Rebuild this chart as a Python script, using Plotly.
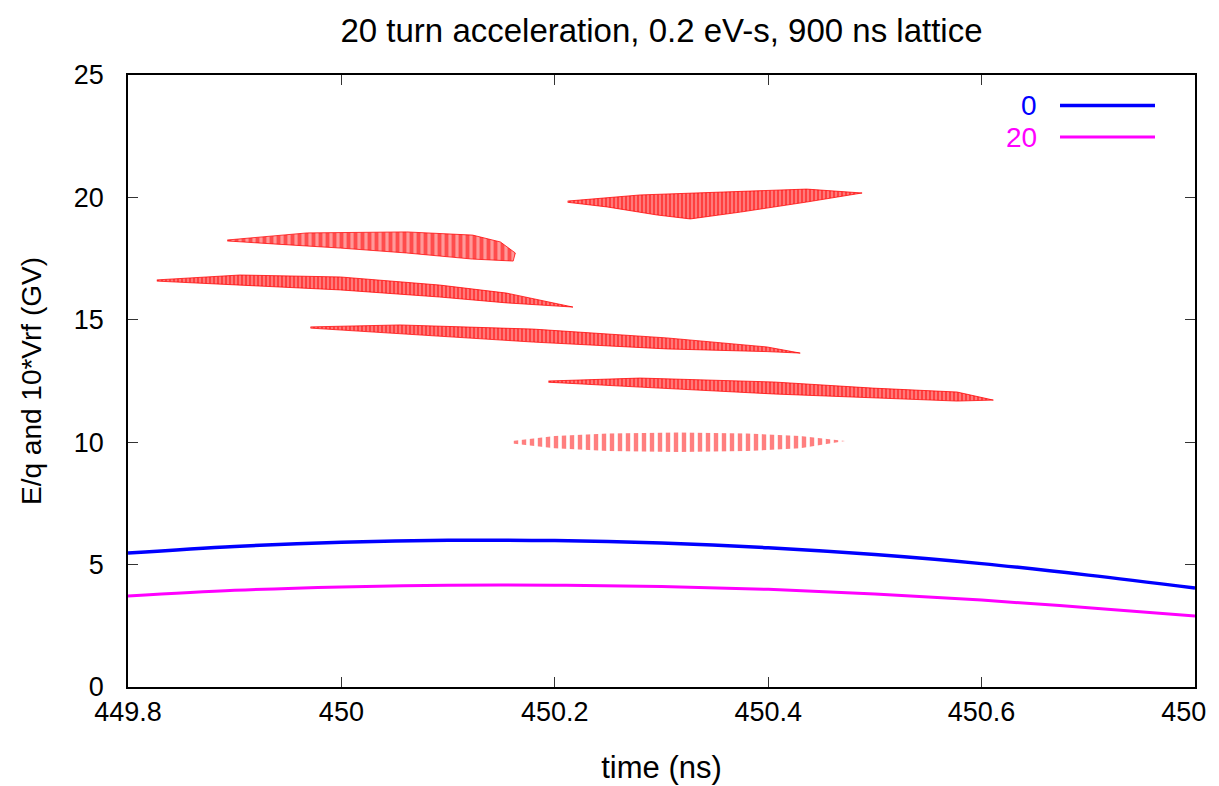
import plotly.graph_objects as go

# ---- data ----
time_ns = [449.8, 449.9, 450.0, 450.1, 450.2, 450.3, 450.4, 450.5, 450.6, 450.7, 450.8]
vrf_turn0 = [5.47, 5.74, 5.91, 5.99, 5.98, 5.88, 5.69, 5.41, 5.04, 4.57, 4.04]
vrf_turn20 = [3.72, 3.95, 4.09, 4.16, 4.16, 4.11, 3.99, 3.80, 3.55, 3.24, 2.90]

# bunch outlines (closed polygons: upper edge left->right, lower edge right->left)
bunch_a_x = [450.160, 450.200, 450.250, 450.316, 450.380, 450.430, 450.472,
             450.430, 450.380, 450.316, 450.250, 450.200, 450.160]
bunch_a_y = [10.05, 10.25, 10.36, 10.40, 10.36, 10.25, 10.05,
             9.75, 9.64, 9.60, 9.64, 9.75, 9.95]

bunch_b_x = [450.194, 450.280, 450.405, 450.498, 450.577, 450.611,
             450.577, 450.498, 450.405, 450.280, 450.194]
bunch_b_y = [12.50, 12.62, 12.46, 12.21, 12.05, 11.72,
             11.68, 11.81, 11.97, 12.25, 12.45]

bunch_c_x = [449.971, 450.055, 450.180, 450.305, 450.399, 450.430,
             450.399, 450.305, 450.180, 450.055, 449.971]
bunch_c_y = [14.71, 14.79, 14.62, 14.26, 13.89, 13.64,
             13.70, 13.81, 14.09, 14.42, 14.66]

bunch_d_x = [449.827, 449.905, 449.999, 450.092, 450.155, 450.217,
             450.155, 450.092, 449.999, 449.905, 449.827]
bunch_d_y = [16.63, 16.83, 16.75, 16.42, 16.09, 15.52,
             15.69, 15.93, 16.22, 16.42, 16.58]

bunch_e_x = [449.893, 449.968, 450.061, 450.123, 450.149, 450.163,
             450.161, 450.123, 450.061, 449.999, 449.936, 449.893]
bunch_e_y = [18.26, 18.55, 18.59, 18.46, 18.18, 17.73,
             17.40, 17.48, 17.73, 17.93, 18.10, 18.22]

bunch_f_x = [450.212, 450.280, 450.358, 450.436, 450.488,
             450.436, 450.374, 450.327, 450.296, 450.249, 450.212]
bunch_f_y = [19.85, 20.10, 20.22, 20.34, 20.18,
             19.81, 19.40, 19.12, 19.28, 19.61, 19.80]

x_tick_vals = [449.8, 450.0, 450.2, 450.4, 450.6, 450.8]
x_tick_text = ["449.8", "450", "450.2", "450.4", "450.6",
               "450<span style='color:rgba(0,0,0,0)'>.8</span>"]
y_tick_vals = [0, 5, 10, 15, 20, 25]

FONT = "Liberation Sans"
RED = "#ff0000"

# page body has an 8px margin: figure is sized so the whole page is 1219x786
W, H = 1211, 778
L, R, T, B = 120, 24, 67, 99
PW = W - L - R
PH = H - T - B

fig = go.Figure()

# (x, y, pattern size, solidity, outline width, base fill)
bunches = [
    (bunch_a_x, bunch_a_y, 8, 0.55, 0, "rgba(0,0,0,0)"),
    (bunch_b_x, bunch_b_y, 4, 0.55, 1, "rgba(255,0,0,0.5)"),
    (bunch_c_x, bunch_c_y, 4, 0.55, 1, "rgba(255,0,0,0.5)"),
    (bunch_d_x, bunch_d_y, 4, 0.55, 1, "rgba(255,0,0,0.5)"),
    (bunch_e_x, bunch_e_y, 7, 0.55, 1, "rgba(255,0,0,0.4)"),
    (bunch_f_x, bunch_f_y, 4, 0.55, 1, "rgba(255,0,0,0.5)"),
]
for bx, by, psize, sol, lw, base in bunches:
    fig.add_trace(go.Scatter(
        x=bx, y=by, mode="lines", fill="toself",
        line=dict(color="rgba(255,0,0,0.75)" if lw else "rgba(0,0,0,0)", width=lw),
        fillcolor=base,
        fillpattern=dict(shape="|", fgcolor=RED, size=psize, solidity=sol,
                         fillmode="overlay"),
        showlegend=False, hoverinfo="skip"))

fig.add_trace(go.Scatter(x=time_ns, y=vrf_turn0, mode="lines", line_shape="spline",
                         line=dict(color="#0000ff", width=3.5), name="0", showlegend=False))
fig.add_trace(go.Scatter(x=time_ns, y=vrf_turn20, mode="lines", line_shape="spline",
                         line=dict(color="#ff00ff", width=3), name="20", showlegend=False))

# gnuplot-style key: label right-aligned, then line sample (positions in page px)
key = [("0", "#0000ff", 3.5, 105.5), ("20", "#ff00ff", 3, 137)]
for label, col, w, ypx in key:
    yp = 1 - (ypx - 75) / PH
    fig.add_annotation(xref="paper", yref="paper", x=(1039 - 128) / PW, y=yp,
                       text=label, showarrow=False, xanchor="right", yanchor="middle",
                       font=dict(family=FONT, size=28, color=col))
    fig.add_shape(type="line", xref="paper", yref="paper",
                  x0=(1060 - 128) / PW, x1=(1155 - 128) / PW, y0=yp, y1=yp,
                  line=dict(color=col, width=w))

axis_common = dict(showline=True, linecolor="black", linewidth=1.5, mirror="ticks",
                   ticks="inside", ticklen=10, tickwidth=1.3, tickcolor="#333",
                   showgrid=False, zeroline=False, automargin=False,
                   ticklabeloverflow="allow",
                   tickfont=dict(family=FONT, size=27, color="black"))

fig.update_xaxes(range=[449.8, 450.8], tickvals=x_tick_vals, ticktext=x_tick_text,
                 title_text="time (ns)", title_standoff=30,
                 title_font=dict(family=FONT, size=31, color="black"), **axis_common)
fig.update_yaxes(range=[0, 25], tickvals=y_tick_vals, ticklabelstandoff=17,
                 title_text="E/q and 10*Vrf (GV)", title_standoff=24,
                 title_font=dict(family=FONT, size=28, color="black"), **axis_common)

fig.update_layout(
    width=W, height=H,
    margin=dict(l=L, r=R, t=T, b=B, autoexpand=False),
    plot_bgcolor="white", paper_bgcolor="white",
    title=dict(text="20 turn acceleration, 0.2 eV-s, 900 ns lattice",
               x=0.5, xref="paper", y=1 - 22 / H, yanchor="middle",
               font=dict(family=FONT, size=33, color="black")),
)

fig.write_html("out.html")
